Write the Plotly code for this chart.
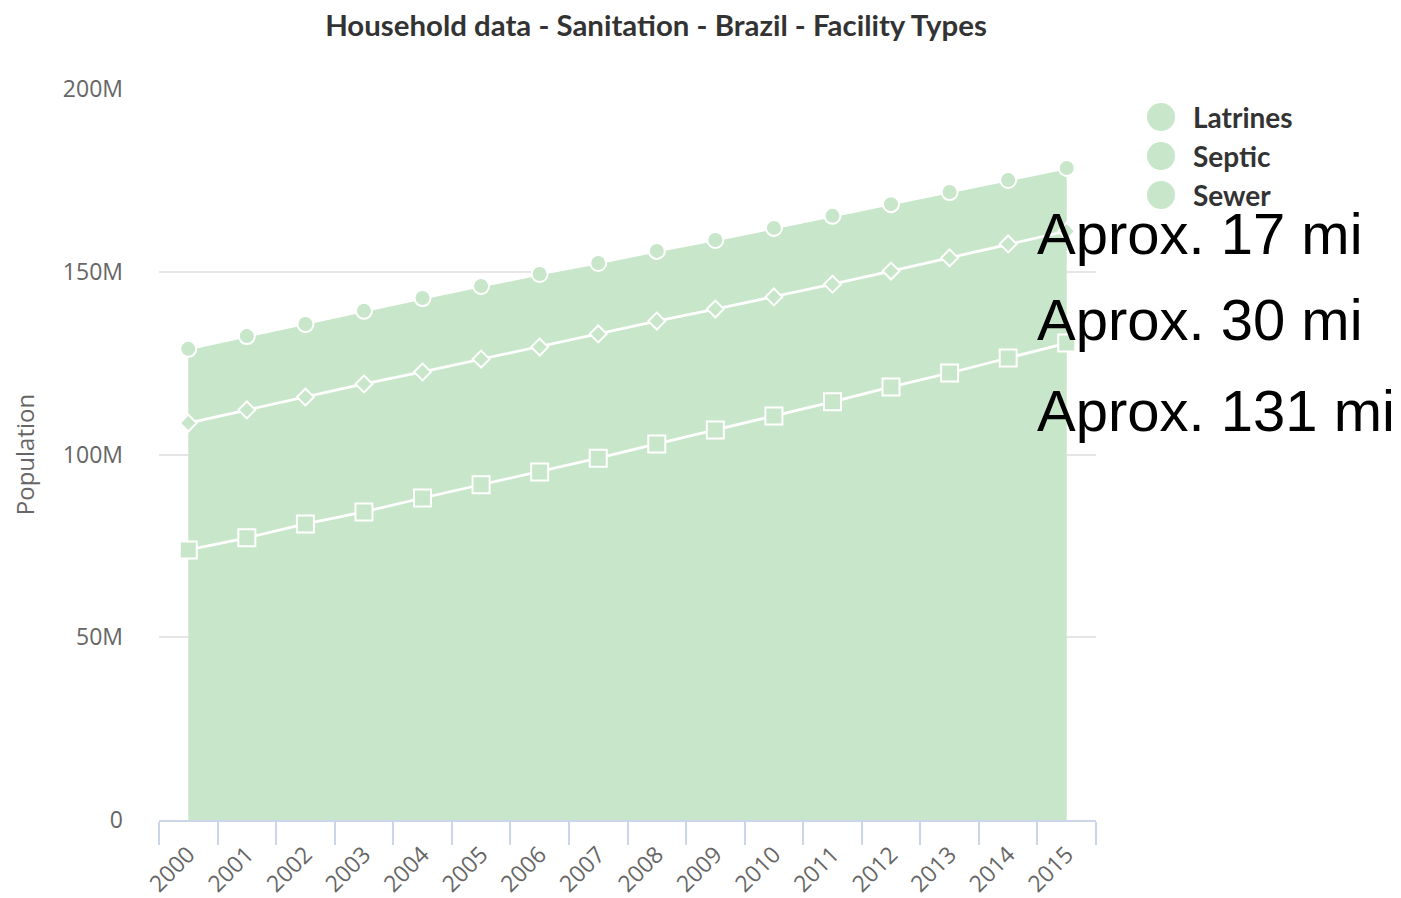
import plotly.graph_objects as go

years = [str(y) for y in range(2000, 2016)]
sewer = [73.9, 77.2, 81.0, 84.3, 88.1, 91.7, 95.2, 99.0, 102.9, 106.7, 110.5, 114.4, 118.5, 122.3, 126.4, 130.5]
septic = [34.7, 35.0, 34.7, 35.0, 34.5, 34.4, 34.2, 34.0, 33.6, 33.1, 32.6, 32.2, 31.7, 31.5, 31.2, 30.6]
latrines = [20.3, 20.2, 20.0, 20.0, 20.2, 20.0, 20.0, 19.4, 19.2, 18.9, 18.9, 18.7, 18.3, 18.0, 17.5, 17.3]
legend_names = ["Latrines", "Septic", "Sewer"]
y_tickvals = [0, 50e6, 100e6, 150e6, 200e6]
y_ticktext = ["0", "50M", "100M", "150M", "200M"]
notes = ["Aprox. 17 mi", "Aprox. 30 mi", "Aprox. 131 mi"]

GREEN = "rgb(200,230,201)"

# plot area in screenshot pixels (page has an 8px body offset)
PX_L, PX_R, PX_T, PX_B = 159, 1096, 89, 820
OFF = 8


def px_x(x):
    return (x - PX_L) / (PX_R - PX_L)


def px_y(y):
    return (PX_B - y) / (PX_B - PX_T)


fig = go.Figure()
series = [("Sewer", sewer, "square", 17), ("Septic", septic, "diamond", 13), ("Latrines", latrines, "circle", 16)]
for name, vals, sym, size in series:
    fig.add_trace(go.Scatter(
        x=years, y=[v * 1e6 for v in vals], name=name, stackgroup="one",
        mode="lines+markers", fillcolor=GREEN,
        line=dict(color="white", width=2.8),
        marker=dict(symbol=sym, size=size, color=GREEN, line=dict(color="white", width=2)),
        showlegend=False, hoverinfo="skip",
    ))

# legend drawn as circles + labels
for i, name in enumerate(legend_names):
    yc = 117 + 39 * i
    fig.add_shape(type="circle", xref="paper", yref="paper",
                  xsizemode="pixel", ysizemode="pixel",
                  xanchor=px_x(1161), yanchor=px_y(yc),
                  x0=-14, x1=14, y0=-14, y1=14,
                  fillcolor=GREEN, line=dict(width=0))
    fig.add_annotation(text="<b>%s</b>" % name, xref="paper", yref="paper",
                       x=px_x(1191), y=px_y(yc), xanchor="left", yanchor="middle",
                       showarrow=False,
                       font=dict(family="Lato", size=28, color="#333333"))

for txt, ypx in zip(notes, [233, 319, 410]):
    fig.add_annotation(text=txt, xref="paper", yref="paper",
                       x=px_x(1035), y=px_y(ypx),
                       xanchor="left", yanchor="middle", showarrow=False,
                       font=dict(family="Liberation Sans, Arial", size=58, color="black"))

W, H = 1401, 898
fig.update_layout(
    width=W, height=H,
    margin=dict(l=PX_L - OFF, r=W - (PX_R - OFF), t=PX_T - OFF, b=H - (PX_B - OFF), autoexpand=False),
    plot_bgcolor="white", paper_bgcolor="white",
    title=dict(text="<b>Household data - Sanitation - Brazil - Facility Types</b>",
               x=(656 - OFF) / W, xanchor="center", y=1 - (26 - OFF) / H, yanchor="middle",
               font=dict(family="Lato", size=29.4, color="#333333")),
    showlegend=False,
    font=dict(family="Open Sans", color="#666666"),
)
fig.update_xaxes(type="category", range=[-0.5, 15.5], tickson="boundaries", automargin=False,
                 ticks="outside", ticklen=23, tickcolor="#ccd6eb", tickwidth=2,
                 showline=True, linecolor="#ccd6eb", linewidth=2, showgrid=False,
                 ticklabelstandoff=10,
                 tickangle=-45, tickfont=dict(family="Open Sans", size=23, color="#666666"))
fig.update_yaxes(range=[0, 200e6], tickvals=y_tickvals, ticktext=y_ticktext, automargin=False,
                 showgrid=True, gridcolor="#e6e6e6", gridwidth=1.5, zeroline=False,
                 ticklabelstandoff=35,
                 tickfont=dict(family="Open Sans", size=23, color="#666666"),
                 title=dict(text="Population", standoff=22,
                            font=dict(family="Open Sans", size=24, color="#666666")))

fig.write_html("out.html")
